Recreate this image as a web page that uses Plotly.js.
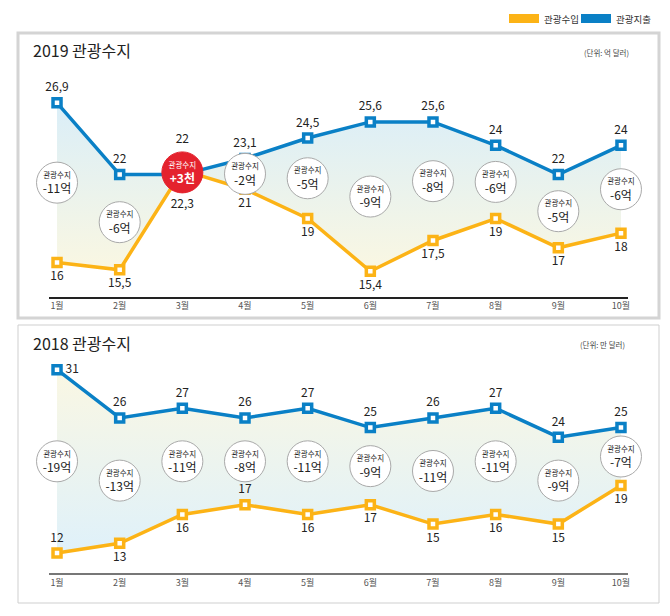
<!DOCTYPE html>
<html>
<head>
<meta charset="utf-8">
<script src="https://cdn.plot.ly/plotly-3.0.1.min.js"></script>
<style>html,body{margin:0;padding:0;background:#fff;}#chart{width:670px;height:616px;}</style>
</head>
<body>
<div id="chart"></div>
<script>
// ---- data ----
const months = ['1월','2월','3월','4월','5월','6월','7월','8월','9월','10월'];
const income2019 = [16, 15.5, 22.3, 21, 19, 15.4, 17.5, 19, 17, 18];
const spend2019  = [26.9, 22, 22, 23.1, 24.5, 25.6, 25.6, 24, 22, 24];
const balance2019 = ['-11억','-6억','+3천','-2억','-5억','-9억','-8억','-6억','-5억','-6억'];
const income2018 = [12, 13, 16, 17, 16, 17, 15, 16, 15, 19];
const spend2018  = [31, 26, 27, 26, 27, 25, 26, 27, 24, 25];
const balance2018 = ['-19억','-13억','-11억','-8억','-11억','-9억','-11억','-11억','-9억','-7억'];

const incomeName = '관광수입';
const spendName = '관광지출';
const title2019 = '2019 관광수지';
const title2018 = '2018 관광수지';
const unit2019 = '(단위: 억 달러)';
const unit2018 = '(단위: 만 달러)';
const balanceWord = '관광수지';

// ---- styles ----
const FONT = '"Noto Sans CJK KR", "Noto Sans", sans-serif';
const ORANGE = '#fcb316';
const BLUE = '#0a80c6';
const RED = '#e4222d';
const W = 670, H = 616;
const px = v => v / W;
const py = v => 1 - v / H;

const fmt = v => String(v).replace('.', ',');

function panelTraces(inc, exp, bal, xa, ya, grad, incPos, expPos) {
  const tr = [];
  tr.push({x: months, y: inc, xaxis: xa, yaxis: ya, mode: 'lines', line: {width: 0}, hoverinfo: 'skip', showlegend: false});
  tr.push({x: months, y: exp, xaxis: xa, yaxis: ya, mode: 'lines', line: {width: 0}, fill: 'tonexty',
    fillgradient: {type: 'vertical', colorscale: grad}, hoverinfo: 'skip', showlegend: false});
  const mk = c => ({symbol: 'square', size: 8, color: '#ffffff', line: {color: c, width: 3.5}});
  tr.push({x: months, y: exp, xaxis: xa, yaxis: ya, mode: 'lines+markers', name: spendName, cliponaxis: false,
    line: {color: BLUE, width: 3.5}, marker: mk(BLUE), showlegend: false});
  tr.push({x: months, y: inc, xaxis: xa, yaxis: ya, mode: 'lines+markers', name: incomeName, cliponaxis: false,
    line: {color: ORANGE, width: 3.5}, marker: mk(ORANGE), showlegend: false});
  const pos = bal.map(b => b[0] === '+');
  const mid = inc.map((v, i) => (v + exp[i]) / 2);
  tr.push({x: months, y: mid, xaxis: xa, yaxis: ya, mode: 'markers+text', showlegend: false, cliponaxis: false,
    marker: {size: 41, color: pos.map(p => p ? RED : '#ffffff'), line: {color: pos.map(p => p ? RED : '#a9a9a9'), width: 1}},
    text: bal.map((b, i) => pos[i]
      ? '<span style="font-size:7.5px">' + balanceWord + '</span><br><b>' + b + '</b>'
      : '<span style="font-size:7.5px">' + balanceWord + '</span><br>' + b),
    textposition: 'middle center',
    textfont: {family: FONT, size: 12, color: pos.map(p => p ? '#ffffff' : '#222222')}});
  const sz = pos.map(p => p ? 44 : 12);
  tr.push({x: months, y: exp, xaxis: xa, yaxis: ya, mode: 'markers+text', showlegend: false, cliponaxis: false,
    marker: {size: sz, opacity: 0}, text: exp.map(fmt), textposition: expPos,
    textfont: {family: FONT, size: 12, color: '#222'}});
  tr.push({x: months, y: inc, xaxis: xa, yaxis: ya, mode: 'markers+text', showlegend: false, cliponaxis: false,
    marker: {size: sz, opacity: 0}, text: inc.map(fmt), textposition: incPos,
    textfont: {family: FONT, size: 12, color: '#222'}});
  return tr;
}

const gradTopBlue = [[0, '#faf7e2'], [1, '#daeef8']];
const gradTopCream = [[0, '#dff1fa'], [1, '#faf7e3']];

const traces = [].concat(
  panelTraces(income2019, spend2019, balance2019, 'x', 'y', gradTopBlue,
    months.map(() => 'bottom center'), months.map(() => 'top center')),
  panelTraces(income2018, spend2018, balance2018, 'x2', 'y2', gradTopCream,
    ['top center','bottom center','bottom center','top center','bottom center','bottom center','bottom center','bottom center','bottom center','bottom center'],
    ['middle right','top center','top center','top center','top center','top center','top center','top center','top center','top center'])
);

const xr = [-0.128, 9.112];
const xbase = {type: 'category', range: xr, domain: [px(49), px(628)], showgrid: false, zeroline: false,
  ticks: '', tickfont: {family: FONT, size: 9, color: '#555'}, fixedrange: true};

const layout = {
  width: W, height: H,
  margin: {l: 0, r: 0, t: 0, b: 0},
  paper_bgcolor: '#ffffff', plot_bgcolor: 'rgba(0,0,0,0)',
  showlegend: false,
  xaxis: Object.assign({}, xbase, {anchor: 'y', showline: true, linecolor: '#222', linewidth: 1.5}),
  xaxis2: Object.assign({}, xbase, {anchor: 'y2', showline: true, linecolor: '#777', linewidth: 2}),
  yaxis: {domain: [py(297), py(33)], range: [13.639, 31.672], visible: false, fixedrange: true},
  yaxis2: {domain: [py(573), py(325)], range: [9.927, 35.627], visible: false, fixedrange: true},
  shapes: [
    {type: 'rect', xref: 'paper', yref: 'paper', x0: px(18), x1: px(659), y0: py(318), y1: py(33), line: {color: '#d4d4d4', width: 3}, layer: 'below'},
    {type: 'rect', xref: 'paper', yref: 'paper', x0: px(18), x1: px(659), y0: py(603), y1: py(325), line: {color: '#cfcfcf', width: 1}, layer: 'below'},
    {type: 'rect', xref: 'paper', yref: 'paper', x0: px(509), x1: px(539), y0: py(23), y1: py(14), fillcolor: ORANGE, line: {width: 0}},
    {type: 'rect', xref: 'paper', yref: 'paper', x0: px(581), x1: px(611), y0: py(23), y1: py(14), fillcolor: BLUE, line: {width: 0}}
  ],
  annotations: [
    {xref: 'paper', yref: 'paper', x: px(542), y: py(19), xanchor: 'left', yanchor: 'middle', showarrow: false, text: incomeName, font: {family: FONT, size: 9.5, color: '#333'}},
    {xref: 'paper', yref: 'paper', x: px(614), y: py(19), xanchor: 'left', yanchor: 'middle', showarrow: false, text: spendName, font: {family: FONT, size: 9.5, color: '#333'}},
    {xref: 'paper', yref: 'paper', x: px(31), y: py(50), xanchor: 'left', yanchor: 'middle', showarrow: false, text: title2019, font: {family: FONT, size: 16, color: '#222'}},
    {xref: 'paper', yref: 'paper', x: px(31), y: py(343), xanchor: 'left', yanchor: 'middle', showarrow: false, text: title2018, font: {family: FONT, size: 16, color: '#222'}},
    {xref: 'paper', yref: 'paper', x: px(631), y: py(53), xanchor: 'right', yanchor: 'middle', showarrow: false, text: unit2019, font: {family: FONT, size: 7.5, color: '#444'}},
    {xref: 'paper', yref: 'paper', x: px(627), y: py(344), xanchor: 'right', yanchor: 'middle', showarrow: false, text: unit2018, font: {family: FONT, size: 7.5, color: '#444'}}
  ]
};

Plotly.newPlot('chart', traces, layout, {staticPlot: true, displayModeBar: false});
</script>
</body>
</html>
